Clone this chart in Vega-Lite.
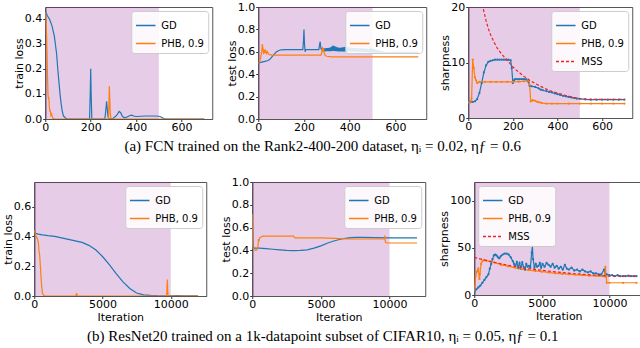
{
  "$schema": "https://vega.github.io/schema/vega-lite/v6.json",
  "padding": {"left": 1, "top": 0, "right": 2, "bottom": 0},
  "background": "white",
  "config": {
    "font": "DejaVu Sans",
    "view": {"stroke": "#555555", "strokeWidth": 1},
    "axis": {"grid": false, "domain": true, "domainColor": "#555555", "domainWidth": 1, "zindex": 1, "tickColor": "#333333", "tickSize": 2.5, "labelFontSize": 11, "titleFontSize": 11, "titleFontWeight": "normal", "labelColor": "#000000", "titleColor": "#000000", "titlePadding": 0, "labelFlush": false, "labelOverlap": false, "labelFont": "DejaVu Sans", "titleFont": "DejaVu Sans"},
    "axisX": {"labelPadding": 0, "titlePadding": 2},
    "axisY": {"labelPadding": 1},
    "legend": {"orient": "top-right", "offset": 4, "fillColor": "rgba(255,255,255,0.85)", "strokeColor": "#cccccc", "cornerRadius": 3, "padding": 4, "symbolType": "stroke", "symbolSize": 380, "symbolStrokeWidth": 1.5, "labelFontSize": 10, "labelFont": "DejaVu Sans", "rowPadding": 2, "labelOffset": 5},
    "title": {"font": "Liberation Serif", "fontSize": 15, "fontWeight": "normal", "color": "#000000", "orient": "bottom", "anchor": "middle", "offset": 6}
  },
  "datasets": {
    "p1": [
      {"s":"GD","x":0,"y":0.425},{"s":"GD","x":5,"y":0.42},{"s":"GD","x":10,"y":0.41},{"s":"GD","x":20,"y":0.395},{"s":"GD","x":30,"y":0.37},{"s":"GD","x":40,"y":0.33},{"s":"GD","x":50,"y":0.26},{"s":"GD","x":55,"y":0.2},{"s":"GD","x":60,"y":0.15},{"s":"GD","x":65,"y":0.1},{"s":"GD","x":70,"y":0.06},{"s":"GD","x":75,"y":0.03},{"s":"GD","x":80,"y":0.012},{"s":"GD","x":90,"y":0.003},{"s":"GD","x":100,"y":0},{"s":"GD","x":195,"y":0},{"s":"GD","x":198,"y":0.1},{"s":"GD","x":200,"y":0.2},{"s":"GD","x":202,"y":0.1},{"s":"GD","x":205,"y":0},{"s":"GD","x":262,"y":0},{"s":"GD","x":266,"y":0.03},{"s":"GD","x":270,"y":0.07},{"s":"GD","x":273,"y":0.04},{"s":"GD","x":276,"y":0.01},{"s":"GD","x":280,"y":0},{"s":"GD","x":300,"y":0.003},{"s":"GD","x":315,"y":0.015},{"s":"GD","x":325,"y":0.03},{"s":"GD","x":332,"y":0.025},{"s":"GD","x":340,"y":0.01},{"s":"GD","x":350,"y":0.005},{"s":"GD","x":360,"y":0.008},{"s":"GD","x":370,"y":0.013},{"s":"GD","x":380,"y":0.015},{"s":"GD","x":390,"y":0.012},{"s":"GD","x":400,"y":0.01},{"s":"GD","x":420,"y":0.011},{"s":"GD","x":440,"y":0.012},{"s":"GD","x":460,"y":0.012},{"s":"GD","x":480,"y":0.012},{"s":"GD","x":500,"y":0.011},{"s":"GD","x":510,"y":0.008},{"s":"GD","x":520,"y":0.003},{"s":"GD","x":530,"y":0},{"s":"GD","x":700,"y":0},
      {"s":"PHB, 0.9","x":0,"y":0.425},{"s":"PHB, 0.9","x":3,"y":0.4},{"s":"PHB, 0.9","x":6,"y":0.33},{"s":"PHB, 0.9","x":8,"y":0.25},{"s":"PHB, 0.9","x":10,"y":0.17},{"s":"PHB, 0.9","x":12,"y":0.1},{"s":"PHB, 0.9","x":14,"y":0.08},{"s":"PHB, 0.9","x":16,"y":0.085},{"s":"PHB, 0.9","x":18,"y":0.05},{"s":"PHB, 0.9","x":20,"y":0.03},{"s":"PHB, 0.9","x":22,"y":0.035},{"s":"PHB, 0.9","x":25,"y":0.015},{"s":"PHB, 0.9","x":28,"y":0.02},{"s":"PHB, 0.9","x":32,"y":0.005},{"s":"PHB, 0.9","x":40,"y":0},{"s":"PHB, 0.9","x":278,"y":0},{"s":"PHB, 0.9","x":280,"y":0.05},{"s":"PHB, 0.9","x":282,"y":0.13},{"s":"PHB, 0.9","x":284,"y":0.08},{"s":"PHB, 0.9","x":286,"y":0.02},{"s":"PHB, 0.9","x":290,"y":0},{"s":"PHB, 0.9","x":700,"y":0}
    ],
    "p2": [
      {"s":"GD","x":0,"y":0.5},{"s":"GD","x":10,"y":0.505},{"s":"GD","x":20,"y":0.51},{"s":"GD","x":30,"y":0.515},{"s":"GD","x":40,"y":0.52},{"s":"GD","x":50,"y":0.53},{"s":"GD","x":60,"y":0.555},{"s":"GD","x":70,"y":0.58},{"s":"GD","x":80,"y":0.6},{"s":"GD","x":90,"y":0.612},{"s":"GD","x":100,"y":0.618},{"s":"GD","x":120,"y":0.62},{"s":"GD","x":195,"y":0.62},{"s":"GD","x":198,"y":0.7},{"s":"GD","x":200,"y":0.8},{"s":"GD","x":202,"y":0.68},{"s":"GD","x":205,"y":0.6},{"s":"GD","x":208,"y":0.62},{"s":"GD","x":265,"y":0.62},{"s":"GD","x":268,"y":0.66},{"s":"GD","x":271,"y":0.69},{"s":"GD","x":274,"y":0.63},{"s":"GD","x":278,"y":0.62},
      {"s":"GD","x":280,"y":0.63},{"s":"GD","x":283,"y":0.605},{"s":"GD","x":286,"y":0.63},{"s":"GD","x":289,"y":0.605},{"s":"GD","x":292,"y":0.63},{"s":"GD","x":295,"y":0.605},{"s":"GD","x":298,"y":0.632},{"s":"GD","x":301,"y":0.605},{"s":"GD","x":304,"y":0.633},{"s":"GD","x":307,"y":0.605},{"s":"GD","x":310,"y":0.635},{"s":"GD","x":313,"y":0.605},{"s":"GD","x":316,"y":0.64},{"s":"GD","x":319,"y":0.606},{"s":"GD","x":322,"y":0.648},{"s":"GD","x":325,"y":0.607},{"s":"GD","x":328,"y":0.655},{"s":"GD","x":331,"y":0.607},{"s":"GD","x":334,"y":0.65},{"s":"GD","x":337,"y":0.606},{"s":"GD","x":340,"y":0.645},{"s":"GD","x":343,"y":0.605},{"s":"GD","x":346,"y":0.64},{"s":"GD","x":349,"y":0.604},{"s":"GD","x":352,"y":0.637},{"s":"GD","x":355,"y":0.604},{"s":"GD","x":358,"y":0.636},{"s":"GD","x":361,"y":0.604},{"s":"GD","x":364,"y":0.637},{"s":"GD","x":367,"y":0.604},{"s":"GD","x":370,"y":0.64},{"s":"GD","x":373,"y":0.604},{"s":"GD","x":376,"y":0.643},{"s":"GD","x":379,"y":0.604},{"s":"GD","x":382,"y":0.645},{"s":"GD","x":385,"y":0.604},{"s":"GD","x":388,"y":0.642},{"s":"GD","x":391,"y":0.603},{"s":"GD","x":394,"y":0.64},{"s":"GD","x":397,"y":0.603},{"s":"GD","x":400,"y":0.637},{"s":"GD","x":403,"y":0.603},{"s":"GD","x":406,"y":0.635},{"s":"GD","x":409,"y":0.603},{"s":"GD","x":412,"y":0.634},{"s":"GD","x":415,"y":0.602},{"s":"GD","x":418,"y":0.633},{"s":"GD","x":421,"y":0.602},{"s":"GD","x":424,"y":0.632},{"s":"GD","x":427,"y":0.602},{"s":"GD","x":430,"y":0.632},{"s":"GD","x":433,"y":0.602},{"s":"GD","x":436,"y":0.631},{"s":"GD","x":439,"y":0.601},{"s":"GD","x":442,"y":0.63},{"s":"GD","x":445,"y":0.601},{"s":"GD","x":448,"y":0.63},{"s":"GD","x":451,"y":0.601},{"s":"GD","x":454,"y":0.629},{"s":"GD","x":457,"y":0.601},{"s":"GD","x":460,"y":0.628},{"s":"GD","x":463,"y":0.6},{"s":"GD","x":466,"y":0.627},{"s":"GD","x":469,"y":0.6},{"s":"GD","x":472,"y":0.626},{"s":"GD","x":475,"y":0.6},{"s":"GD","x":478,"y":0.625},{"s":"GD","x":481,"y":0.6},{"s":"GD","x":484,"y":0.624},{"s":"GD","x":487,"y":0.6},{"s":"GD","x":490,"y":0.622},{"s":"GD","x":493,"y":0.599},{"s":"GD","x":496,"y":0.621},{"s":"GD","x":499,"y":0.599},{"s":"GD","x":502,"y":0.619},{"s":"GD","x":505,"y":0.598},{"s":"GD","x":508,"y":0.616},{"s":"GD","x":511,"y":0.598},{"s":"GD","x":514,"y":0.613},{"s":"GD","x":517,"y":0.598},{"s":"GD","x":520,"y":0.61},{"s":"GD","x":523,"y":0.597},{"s":"GD","x":526,"y":0.607},{"s":"GD","x":529,"y":0.597},{"s":"GD","x":532,"y":0.604},{"s":"GD","x":535,"y":0.596},{"s":"GD","x":538,"y":0.602},{"s":"GD","x":541,"y":0.596},{"s":"GD","x":544,"y":0.6},{"s":"GD","x":550,"y":0.597},{"s":"GD","x":600,"y":0.595},{"s":"GD","x":700,"y":0.595},
      {"s":"PHB, 0.9","x":0,"y":0.5},{"s":"PHB, 0.9","x":5,"y":0.51},{"s":"PHB, 0.9","x":10,"y":0.54},{"s":"PHB, 0.9","x":15,"y":0.6},{"s":"PHB, 0.9","x":18,"y":0.67},{"s":"PHB, 0.9","x":21,"y":0.62},{"s":"PHB, 0.9","x":24,"y":0.58},{"s":"PHB, 0.9","x":27,"y":0.62},{"s":"PHB, 0.9","x":30,"y":0.59},{"s":"PHB, 0.9","x":33,"y":0.61},{"s":"PHB, 0.9","x":36,"y":0.585},{"s":"PHB, 0.9","x":40,"y":0.6},{"s":"PHB, 0.9","x":45,"y":0.58},{"s":"PHB, 0.9","x":50,"y":0.575},{"s":"PHB, 0.9","x":60,"y":0.57},{"s":"PHB, 0.9","x":100,"y":0.57},{"s":"PHB, 0.9","x":275,"y":0.57},{"s":"PHB, 0.9","x":278,"y":0.6},{"s":"PHB, 0.9","x":281,"y":0.64},{"s":"PHB, 0.9","x":283,"y":0.6},{"s":"PHB, 0.9","x":286,"y":0.63},{"s":"PHB, 0.9","x":289,"y":0.58},{"s":"PHB, 0.9","x":295,"y":0.565},{"s":"PHB, 0.9","x":300,"y":0.56},{"s":"PHB, 0.9","x":320,"y":0.555},{"s":"PHB, 0.9","x":700,"y":0.555}
    ],
    "p3": [
      {"s":"GD","x":0,"y":2.9},{"s":"GD","x":10,"y":2.9},{"s":"GD","x":20,"y":2.9},{"s":"GD","x":30,"y":3.0},{"s":"GD","x":40,"y":3.4},{"s":"GD","x":50,"y":4.5},{"s":"GD","x":60,"y":6.3},{"s":"GD","x":70,"y":8.2},{"s":"GD","x":80,"y":9.5},{"s":"GD","x":90,"y":10.1},{"s":"GD","x":100,"y":10.3},{"s":"GD","x":110,"y":10.4},{"s":"GD","x":120,"y":10.5},{"s":"GD","x":130,"y":10.5},{"s":"GD","x":140,"y":10.5},{"s":"GD","x":150,"y":10.5},{"s":"GD","x":160,"y":10.5},{"s":"GD","x":170,"y":10.5},{"s":"GD","x":180,"y":10.5},{"s":"GD","x":190,"y":10.4},{"s":"GD","x":195,"y":9},{"s":"GD","x":200,"y":6.3},{"s":"GD","x":205,"y":6.8},{"s":"GD","x":210,"y":7.0},{"s":"GD","x":220,"y":7.0},{"s":"GD","x":230,"y":7.0},{"s":"GD","x":240,"y":7.0},{"s":"GD","x":250,"y":7.0},{"s":"GD","x":260,"y":6.95},{"s":"GD","x":270,"y":6.5},{"s":"GD","x":275,"y":5.8},{"s":"GD","x":285,"y":5.7},{"s":"GD","x":300,"y":5.6},{"s":"GD","x":315,"y":5.35},{"s":"GD","x":325,"y":5.1},{"s":"GD","x":335,"y":5.0},{"s":"GD","x":350,"y":4.85},{"s":"GD","x":362,"y":4.7},{"s":"GD","x":375,"y":4.6},{"s":"GD","x":387,"y":4.45},{"s":"GD","x":400,"y":4.3},{"s":"GD","x":412,"y":4.15},{"s":"GD","x":425,"y":4.0},{"s":"GD","x":437,"y":3.9},{"s":"GD","x":450,"y":3.8},{"s":"GD","x":462,"y":3.7},{"s":"GD","x":475,"y":3.6},{"s":"GD","x":487,"y":3.5},{"s":"GD","x":500,"y":3.45},{"s":"GD","x":525,"y":3.35},{"s":"GD","x":550,"y":3.3},{"s":"GD","x":575,"y":3.3},{"s":"GD","x":600,"y":3.3},{"s":"GD","x":625,"y":3.3},{"s":"GD","x":650,"y":3.3},{"s":"GD","x":675,"y":3.3},{"s":"GD","x":700,"y":3.3},
      {"s":"PHB, 0.9","x":0,"y":2.8},{"s":"PHB, 0.9","x":10,"y":2.8},{"s":"PHB, 0.9","x":15,"y":3.5},{"s":"PHB, 0.9","x":20,"y":10.5},{"s":"PHB, 0.9","x":25,"y":9},{"s":"PHB, 0.9","x":30,"y":7.3},{"s":"PHB, 0.9","x":35,"y":6.8},{"s":"PHB, 0.9","x":40,"y":6.3},{"s":"PHB, 0.9","x":50,"y":6.5},{"s":"PHB, 0.9","x":75,"y":6.5},{"s":"PHB, 0.9","x":100,"y":6.5},{"s":"PHB, 0.9","x":125,"y":6.5},{"s":"PHB, 0.9","x":150,"y":6.5},{"s":"PHB, 0.9","x":175,"y":6.5},{"s":"PHB, 0.9","x":200,"y":6.5},{"s":"PHB, 0.9","x":225,"y":6.55},{"s":"PHB, 0.9","x":250,"y":6.6},{"s":"PHB, 0.9","x":270,"y":6.7},{"s":"PHB, 0.9","x":275,"y":6.0},{"s":"PHB, 0.9","x":280,"y":3.0},{"s":"PHB, 0.9","x":285,"y":3.1},{"s":"PHB, 0.9","x":290,"y":3.2},{"s":"PHB, 0.9","x":300,"y":3.1},{"s":"PHB, 0.9","x":310,"y":2.9},{"s":"PHB, 0.9","x":320,"y":2.8},{"s":"PHB, 0.9","x":330,"y":2.7},{"s":"PHB, 0.9","x":350,"y":2.6},{"s":"PHB, 0.9","x":375,"y":2.6},{"s":"PHB, 0.9","x":400,"y":2.6},{"s":"PHB, 0.9","x":450,"y":2.6},{"s":"PHB, 0.9","x":500,"y":2.6},{"s":"PHB, 0.9","x":550,"y":2.6},{"s":"PHB, 0.9","x":600,"y":2.6},{"s":"PHB, 0.9","x":650,"y":2.6},{"s":"PHB, 0.9","x":700,"y":2.6},
      {"s":"MSS","x":64,"y":20.5},{"s":"MSS","x":70,"y":19.2},{"s":"MSS","x":80,"y":17.5},{"s":"MSS","x":90,"y":16.1},{"s":"MSS","x":100,"y":15},{"s":"MSS","x":115,"y":13.7},{"s":"MSS","x":130,"y":12.6},{"s":"MSS","x":150,"y":11.5},{"s":"MSS","x":175,"y":10.4},{"s":"MSS","x":200,"y":9.2},{"s":"MSS","x":225,"y":8.3},{"s":"MSS","x":250,"y":7.5},{"s":"MSS","x":275,"y":6.8},{"s":"MSS","x":300,"y":6.2},{"s":"MSS","x":325,"y":5.7},{"s":"MSS","x":350,"y":5.2},{"s":"MSS","x":375,"y":4.8},{"s":"MSS","x":400,"y":4.5},{"s":"MSS","x":425,"y":4.2},{"s":"MSS","x":450,"y":3.9},{"s":"MSS","x":475,"y":3.7},{"s":"MSS","x":500,"y":3.5},{"s":"MSS","x":525,"y":3.4},{"s":"MSS","x":550,"y":3.35},{"s":"MSS","x":600,"y":3.35},{"s":"MSS","x":700,"y":3.35}
    ],
    "p4": [
      {"s":"GD","x":0,"y":0.44},{"s":"GD","x":50,"y":0.43},{"s":"GD","x":100,"y":0.42},{"s":"GD","x":300,"y":0.415},{"s":"GD","x":600,"y":0.41},{"s":"GD","x":1000,"y":0.405},{"s":"GD","x":1500,"y":0.4},{"s":"GD","x":2000,"y":0.39},{"s":"GD","x":2500,"y":0.38},{"s":"GD","x":3000,"y":0.37},{"s":"GD","x":3500,"y":0.36},{"s":"GD","x":4000,"y":0.34},{"s":"GD","x":4500,"y":0.31},{"s":"GD","x":5000,"y":0.265},{"s":"GD","x":5500,"y":0.21},{"s":"GD","x":6000,"y":0.15},{"s":"GD","x":6500,"y":0.095},{"s":"GD","x":7000,"y":0.05},{"s":"GD","x":7500,"y":0.02},{"s":"GD","x":8000,"y":0.008},{"s":"GD","x":8500,"y":0.004},{"s":"GD","x":9000,"y":0.002},{"s":"GD","x":10000,"y":0.001},{"s":"GD","x":10500,"y":0.003},{"s":"GD","x":11000,"y":0.001},{"s":"GD","x":12000,"y":0.001},
      {"s":"PHB, 0.9","x":0,"y":0.44},{"s":"PHB, 0.9","x":100,"y":0.41},{"s":"PHB, 0.9","x":200,"y":0.39},{"s":"PHB, 0.9","x":300,"y":0.36},{"s":"PHB, 0.9","x":350,"y":0.3},{"s":"PHB, 0.9","x":400,"y":0.27},{"s":"PHB, 0.9","x":450,"y":0.2},{"s":"PHB, 0.9","x":500,"y":0.12},{"s":"PHB, 0.9","x":550,"y":0.06},{"s":"PHB, 0.9","x":600,"y":0.02},{"s":"PHB, 0.9","x":700,"y":0.003},{"s":"PHB, 0.9","x":800,"y":0},{"s":"PHB, 0.9","x":3050,"y":0},{"s":"PHB, 0.9","x":3100,"y":0.02},{"s":"PHB, 0.9","x":3150,"y":0},{"s":"PHB, 0.9","x":9700,"y":0},{"s":"PHB, 0.9","x":9720,"y":0.05},{"s":"PHB, 0.9","x":9750,"y":0.11},{"s":"PHB, 0.9","x":9780,"y":0.03},{"s":"PHB, 0.9","x":9800,"y":0},{"s":"PHB, 0.9","x":12000,"y":0}
    ],
    "p5": [
      {"s":"GD","x":0,"y":0.72},{"s":"GD","x":30,"y":0.5},{"s":"GD","x":60,"y":0.43},{"s":"GD","x":150,"y":0.42},{"s":"GD","x":500,"y":0.42},{"s":"GD","x":1000,"y":0.415},{"s":"GD","x":1500,"y":0.41},{"s":"GD","x":2000,"y":0.405},{"s":"GD","x":2500,"y":0.4},{"s":"GD","x":3000,"y":0.398},{"s":"GD","x":3500,"y":0.4},{"s":"GD","x":4000,"y":0.405},{"s":"GD","x":4500,"y":0.42},{"s":"GD","x":5000,"y":0.44},{"s":"GD","x":5500,"y":0.465},{"s":"GD","x":6000,"y":0.485},{"s":"GD","x":6500,"y":0.5},{"s":"GD","x":7000,"y":0.51},{"s":"GD","x":7500,"y":0.515},{"s":"GD","x":8000,"y":0.515},{"s":"GD","x":9000,"y":0.512},{"s":"GD","x":10000,"y":0.51},{"s":"GD","x":11000,"y":0.51},{"s":"GD","x":12000,"y":0.51},
      {"s":"PHB, 0.9","x":0,"y":0.72},{"s":"PHB, 0.9","x":30,"y":0.45},{"s":"PHB, 0.9","x":60,"y":0.42},{"s":"PHB, 0.9","x":150,"y":0.405},{"s":"PHB, 0.9","x":250,"y":0.4},{"s":"PHB, 0.9","x":350,"y":0.405},{"s":"PHB, 0.9","x":420,"y":0.43},{"s":"PHB, 0.9","x":450,"y":0.5},{"s":"PHB, 0.9","x":480,"y":0.48},{"s":"PHB, 0.9","x":550,"y":0.51},{"s":"PHB, 0.9","x":650,"y":0.52},{"s":"PHB, 0.9","x":800,"y":0.525},{"s":"PHB, 0.9","x":1500,"y":0.525},{"s":"PHB, 0.9","x":3000,"y":0.525},{"s":"PHB, 0.9","x":3100,"y":0.51},{"s":"PHB, 0.9","x":4000,"y":0.51},{"s":"PHB, 0.9","x":5000,"y":0.51},{"s":"PHB, 0.9","x":6000,"y":0.505},{"s":"PHB, 0.9","x":7000,"y":0.5},{"s":"PHB, 0.9","x":8000,"y":0.5},{"s":"PHB, 0.9","x":9600,"y":0.5},{"s":"PHB, 0.9","x":9650,"y":0.53},{"s":"PHB, 0.9","x":9700,"y":0.47},{"s":"PHB, 0.9","x":9800,"y":0.465},{"s":"PHB, 0.9","x":12000,"y":0.465}
    ],
    "p6": [
      {"s":"GD","x":0,"y":3},{"s":"GD","x":150,"y":6},{"s":"GD","x":300,"y":8},{"s":"GD","x":450,"y":10},{"s":"GD","x":600,"y":13},{"s":"GD","x":750,"y":16},{"s":"GD","x":900,"y":19},{"s":"GD","x":1050,"y":22},{"s":"GD","x":1150,"y":28},{"s":"GD","x":1250,"y":33},{"s":"GD","x":1350,"y":38},{"s":"GD","x":1450,"y":42},{"s":"GD","x":1550,"y":43},{"s":"GD","x":1650,"y":42},{"s":"GD","x":1750,"y":40},{"s":"GD","x":1850,"y":39},{"s":"GD","x":1950,"y":41},{"s":"GD","x":2100,"y":43},{"s":"GD","x":2250,"y":44},{"s":"GD","x":2400,"y":44},{"s":"GD","x":2550,"y":43},{"s":"GD","x":2700,"y":40},{"s":"GD","x":2850,"y":36},{"s":"GD","x":2950,"y":33},{"s":"GD","x":3050,"y":31},{"s":"GD","x":3150,"y":35},{"s":"GD","x":3250,"y":29},{"s":"GD","x":3350,"y":34},{"s":"GD","x":3450,"y":28},{"s":"GD","x":3550,"y":35},{"s":"GD","x":3650,"y":30},{"s":"GD","x":3750,"y":27},{"s":"GD","x":3850,"y":33},{"s":"GD","x":3950,"y":30},{"s":"GD","x":4050,"y":31},{"s":"GD","x":4150,"y":29},{"s":"GD","x":4250,"y":45},{"s":"GD","x":4300,"y":52},{"s":"GD","x":4350,"y":38},{"s":"GD","x":4450,"y":29},{"s":"GD","x":4550,"y":33},{"s":"GD","x":4650,"y":30},{"s":"GD","x":4750,"y":31},{"s":"GD","x":4850,"y":34},{"s":"GD","x":4950,"y":29},{"s":"GD","x":5050,"y":33},{"s":"GD","x":5200,"y":30},{"s":"GD","x":5350,"y":34},{"s":"GD","x":5500,"y":32},{"s":"GD","x":5650,"y":30},{"s":"GD","x":5800,"y":33},{"s":"GD","x":5950,"y":29},{"s":"GD","x":6100,"y":31},{"s":"GD","x":6250,"y":28},{"s":"GD","x":6400,"y":30},{"s":"GD","x":6550,"y":27},{"s":"GD","x":6700,"y":32},{"s":"GD","x":6850,"y":28},{"s":"GD","x":7000,"y":27},{"s":"GD","x":7200,"y":29},{"s":"GD","x":7400,"y":26},{"s":"GD","x":7600,"y":27},{"s":"GD","x":7800,"y":25},{"s":"GD","x":8000,"y":27},{"s":"GD","x":8200,"y":25},{"s":"GD","x":8400,"y":24},{"s":"GD","x":8600,"y":25},{"s":"GD","x":8800,"y":23},{"s":"GD","x":9000,"y":23},{"s":"GD","x":9200,"y":22},{"s":"GD","x":9400,"y":22},{"s":"GD","x":9600,"y":27},{"s":"GD","x":9700,"y":20},{"s":"GD","x":9800,"y":22},{"s":"GD","x":10000,"y":21},{"s":"GD","x":10200,"y":21},{"s":"GD","x":10400,"y":20},{"s":"GD","x":10600,"y":21},{"s":"GD","x":10800,"y":20},{"s":"GD","x":11000,"y":20},{"s":"GD","x":11200,"y":20},{"s":"GD","x":11400,"y":20.5},{"s":"GD","x":11600,"y":20},{"s":"GD","x":11800,"y":20},{"s":"GD","x":12000,"y":20},
      {"s":"PHB, 0.9","x":0,"y":5},{"s":"PHB, 0.9","x":100,"y":20},{"s":"PHB, 0.9","x":200,"y":25},{"s":"PHB, 0.9","x":300,"y":28},{"s":"PHB, 0.9","x":380,"y":17},{"s":"PHB, 0.9","x":420,"y":22},{"s":"PHB, 0.9","x":500,"y":33},{"s":"PHB, 0.9","x":600,"y":36},{"s":"PHB, 0.9","x":700,"y":37},{"s":"PHB, 0.9","x":900,"y":36.5},{"s":"PHB, 0.9","x":1200,"y":35.5},{"s":"PHB, 0.9","x":1500,"y":34.5},{"s":"PHB, 0.9","x":2000,"y":32},{"s":"PHB, 0.9","x":2500,"y":30.5},{"s":"PHB, 0.9","x":3000,"y":29},{"s":"PHB, 0.9","x":3500,"y":27.5},{"s":"PHB, 0.9","x":4000,"y":26.5},{"s":"PHB, 0.9","x":4500,"y":25.5},{"s":"PHB, 0.9","x":5000,"y":24.8},{"s":"PHB, 0.9","x":5500,"y":24},{"s":"PHB, 0.9","x":6000,"y":23},{"s":"PHB, 0.9","x":6500,"y":22.5},{"s":"PHB, 0.9","x":7000,"y":22},{"s":"PHB, 0.9","x":7500,"y":21.5},{"s":"PHB, 0.9","x":8000,"y":21},{"s":"PHB, 0.9","x":8500,"y":20.5},{"s":"PHB, 0.9","x":9000,"y":20.2},{"s":"PHB, 0.9","x":9500,"y":20},{"s":"PHB, 0.9","x":9650,"y":20},{"s":"PHB, 0.9","x":9700,"y":30},{"s":"PHB, 0.9","x":9750,"y":20},{"s":"PHB, 0.9","x":9800,"y":13},{"s":"PHB, 0.9","x":10000,"y":13},{"s":"PHB, 0.9","x":11000,"y":13},{"s":"PHB, 0.9","x":12000,"y":13},
      {"s":"MSS","x":0,"y":40},{"s":"MSS","x":1000,"y":36.2},{"s":"MSS","x":2000,"y":33},{"s":"MSS","x":3000,"y":30.3},{"s":"MSS","x":4000,"y":28},{"s":"MSS","x":5000,"y":26.2},{"s":"MSS","x":6000,"y":24.6},{"s":"MSS","x":7000,"y":23.2},{"s":"MSS","x":8000,"y":22},{"s":"MSS","x":9000,"y":21},{"s":"MSS","x":10000,"y":20},{"s":"MSS","x":11000,"y":20},{"s":"MSS","x":12000,"y":20}
    ]
  },
  "vconcat": [
    {
      "title": {"text": "(a) FCN trained on the Rank2-400-200 dataset, ηᵢ = 0.02, ηƒ = 0.6"},
      "spacing": 12,
      "resolve": {"scale": {"color": "independent", "strokeDash": "independent"}},
      "hconcat": [
        {
          "width": 167, "height": 112,
          "layer": [
            {"data": {"values": [{"a": 0, "b": 500}]}, "mark": {"type": "rect", "color": "#800080", "opacity": 0.2},
             "encoding": {"x": {"field": "a", "type": "quantitative", "title": null, "scale": {"domain": [0, 735], "nice": false, "zero": false}, "axis": {"values": [0, 200, 400, 600]}}, "x2": {"field": "b"}}},
            {"data": {"name": "p1"}, "mark": {"type": "line", "strokeWidth": 1.2, "clip": true},
             "encoding": {
               "x": {"field": "x", "type": "quantitative", "title": null, "scale": {"domain": [0, 735], "nice": false, "zero": false}, "axis": {"values": [0, 200, 400, 600]}},
               "y": {"field": "y", "type": "quantitative", "title": "train loss", "scale": {"domain": [0, 0.446], "nice": false}, "axis": {"values": [0, 0.1, 0.2, 0.3, 0.4], "format": ".1f"}},
               "color": {"field": "s", "type": "nominal", "scale": {"domain": ["GD", "PHB, 0.9"], "range": ["#1f77b4", "#ff7f0e"]}, "legend": {"title": null}}
             }}
          ]
        },
        {
          "width": 168, "height": 112,
          "layer": [
            {"data": {"values": [{"a": 0, "b": 500}]}, "mark": {"type": "rect", "color": "#800080", "opacity": 0.2},
             "encoding": {"x": {"field": "a", "type": "quantitative", "title": null, "scale": {"domain": [0, 735], "nice": false, "zero": false}, "axis": {"values": [0, 200, 400, 600]}}, "x2": {"field": "b"}}},
            {"data": {"name": "p2"}, "mark": {"type": "line", "strokeWidth": 1.2, "clip": true},
             "encoding": {
               "x": {"field": "x", "type": "quantitative", "title": null, "scale": {"domain": [0, 735], "nice": false, "zero": false}, "axis": {"values": [0, 200, 400, 600]}},
               "y": {"field": "y", "type": "quantitative", "title": "test loss", "scale": {"domain": [0, 1], "nice": false}, "axis": {"values": [0, 0.2, 0.4, 0.6, 0.8, 1.0], "format": ".1f"}},
               "color": {"field": "s", "type": "nominal", "scale": {"domain": ["GD", "PHB, 0.9"], "range": ["#1f77b4", "#ff7f0e"]}, "legend": {"title": null}}
             }}
          ]
        },
        {
          "width": 164, "height": 111,
          "layer": [
            {"data": {"values": [{"a": 0, "b": 500}]}, "mark": {"type": "rect", "color": "#800080", "opacity": 0.2},
             "encoding": {"x": {"field": "a", "type": "quantitative", "title": null, "scale": {"domain": [0, 735], "nice": false, "zero": false}, "axis": {"values": [0, 200, 400, 600]}}, "x2": {"field": "b"}}},
            {"data": {"name": "p3"}, "transform": [{"filter": "datum.s !== 'MSS'"}], "mark": {"type": "line", "strokeWidth": 1.2, "clip": true},
             "encoding": {
               "x": {"field": "x", "type": "quantitative", "title": null, "scale": {"domain": [0, 735], "nice": false, "zero": false}, "axis": {"values": [0, 200, 400, 600]}},
               "y": {"field": "y", "type": "quantitative", "title": "sharpness", "scale": {"domain": [0, 20], "nice": false}, "axis": {"values": [0, 5, 10, 15, 20]}},
               "color": {"field": "s", "type": "nominal", "scale": {"domain": ["GD", "PHB, 0.9", "MSS"], "range": ["#1f77b4", "#ff7f0e", "#ee2222"]}, "legend": {"title": null}},
               "strokeDash": {"field": "s", "type": "nominal", "scale": {"domain": ["GD", "PHB, 0.9", "MSS"], "range": [[1, 0], [1, 0], [3, 2]]}, "legend": {"title": null}}
             }},
            {"data": {"name": "p3"}, "transform": [{"filter": "datum.s !== 'MSS'"}], "mark": {"type": "point", "filled": true, "size": 5, "opacity": 1, "clip": true},
             "encoding": {
               "x": {"field": "x", "type": "quantitative"},
               "y": {"field": "y", "type": "quantitative"},
               "color": {"field": "s", "type": "nominal", "legend": null}
             }},
            {"data": {"name": "p3"}, "transform": [{"filter": "datum.s === 'MSS'"}], "mark": {"type": "line", "strokeWidth": 1.2, "clip": true},
             "encoding": {
               "x": {"field": "x", "type": "quantitative"},
               "y": {"field": "y", "type": "quantitative"},
               "color": {"field": "s", "type": "nominal", "legend": {"title": null}},
               "strokeDash": {"field": "s", "type": "nominal", "legend": {"title": null}}
             }}
          ]
        }
      ]
    },
    {
      "title": {"text": "(b) ResNet20 trained on a 1k-datapoint subset of CIFAR10, ηᵢ = 0.05, ηƒ = 0.1"},
      "spacing": 12,
      "resolve": {"scale": {"color": "independent", "strokeDash": "independent"}},
      "hconcat": [
        {
          "width": 172, "height": 114,
          "layer": [
            {"data": {"values": [{"a": 0, "b": 10000}]}, "mark": {"type": "rect", "color": "#800080", "opacity": 0.2},
             "encoding": {"x": {"field": "a", "type": "quantitative", "title": "Iteration", "scale": {"domain": [0, 12600], "nice": false, "zero": false}, "axis": {"values": [0, 5000, 10000], "format": "d"}}, "x2": {"field": "b"}}},
            {"data": {"name": "p4"}, "mark": {"type": "line", "strokeWidth": 1.2, "clip": true},
             "encoding": {
               "x": {"field": "x", "type": "quantitative", "title": "Iteration", "scale": {"domain": [0, 12600], "nice": false, "zero": false}, "axis": {"values": [0, 5000, 10000], "format": "d"}},
               "y": {"field": "y", "type": "quantitative", "title": "train loss", "scale": {"domain": [0, 0.765], "nice": false}, "axis": {"values": [0, 0.2, 0.4, 0.6], "format": ".1f"}},
               "color": {"field": "s", "type": "nominal", "scale": {"domain": ["GD", "PHB, 0.9"], "range": ["#1f77b4", "#ff7f0e"]}, "legend": {"title": null}}
             }}
          ]
        },
        {
          "width": 173, "height": 114,
          "layer": [
            {"data": {"values": [{"a": 0, "b": 10000}]}, "mark": {"type": "rect", "color": "#800080", "opacity": 0.2},
             "encoding": {"x": {"field": "a", "type": "quantitative", "title": "Iteration", "scale": {"domain": [0, 12600], "nice": false, "zero": false}, "axis": {"values": [0, 5000, 10000], "format": "d"}}, "x2": {"field": "b"}}},
            {"data": {"name": "p5"}, "mark": {"type": "line", "strokeWidth": 1.2, "clip": true},
             "encoding": {
               "x": {"field": "x", "type": "quantitative", "title": "Iteration", "scale": {"domain": [0, 12600], "nice": false, "zero": false}, "axis": {"values": [0, 5000, 10000], "format": "d"}},
               "y": {"field": "y", "type": "quantitative", "title": "test loss", "scale": {"domain": [0, 1], "nice": false}, "axis": {"values": [0, 0.2, 0.4, 0.6, 0.8, 1.0], "format": ".1f"}},
               "color": {"field": "s", "type": "nominal", "scale": {"domain": ["GD", "PHB, 0.9"], "range": ["#1f77b4", "#ff7f0e"]}, "legend": {"title": null}}
             }}
          ]
        },
        {
          "width": 169, "height": 113,
          "layer": [
            {"data": {"values": [{"a": 0, "b": 10000}]}, "mark": {"type": "rect", "color": "#800080", "opacity": 0.2},
             "encoding": {"x": {"field": "a", "type": "quantitative", "title": "Iteration", "scale": {"domain": [0, 12500], "nice": false, "zero": false}, "axis": {"values": [0, 5000, 10000], "format": "d"}}, "x2": {"field": "b"}}},
            {"data": {"name": "p6"}, "transform": [{"filter": "datum.s !== 'MSS'"}], "mark": {"type": "line", "strokeWidth": 1.2, "clip": true},
             "encoding": {
               "x": {"field": "x", "type": "quantitative", "title": "Iteration", "scale": {"domain": [0, 12500], "nice": false, "zero": false}, "axis": {"values": [0, 5000, 10000], "format": "d"}},
               "y": {"field": "y", "type": "quantitative", "title": "sharpness", "scale": {"domain": [0, 120], "nice": false}, "axis": {"values": [0, 25, 50, 75, 100]}},
               "color": {"field": "s", "type": "nominal", "scale": {"domain": ["GD", "PHB, 0.9", "MSS"], "range": ["#1f77b4", "#ff7f0e", "#ee2222"]}, "legend": {"title": null, "orient": "top-left"}},
               "strokeDash": {"field": "s", "type": "nominal", "scale": {"domain": ["GD", "PHB, 0.9", "MSS"], "range": [[1, 0], [1, 0], [3, 2]]}, "legend": {"title": null, "orient": "top-left"}}
             }},
            {"data": {"name": "p6"}, "transform": [{"filter": "datum.s !== 'MSS'"}], "mark": {"type": "point", "filled": true, "size": 5, "opacity": 1, "clip": true},
             "encoding": {
               "x": {"field": "x", "type": "quantitative"},
               "y": {"field": "y", "type": "quantitative"},
               "color": {"field": "s", "type": "nominal", "legend": null}
             }},
            {"data": {"name": "p6"}, "transform": [{"filter": "datum.s === 'MSS'"}], "mark": {"type": "line", "strokeWidth": 1.2, "clip": true},
             "encoding": {
               "x": {"field": "x", "type": "quantitative"},
               "y": {"field": "y", "type": "quantitative"},
               "color": {"field": "s", "type": "nominal", "legend": {"title": null, "orient": "top-left"}},
               "strokeDash": {"field": "s", "type": "nominal", "legend": {"title": null, "orient": "top-left"}}
             }}
          ]
        }
      ]
    }
  ],
  "spacing": 21,
  "center": true
}
